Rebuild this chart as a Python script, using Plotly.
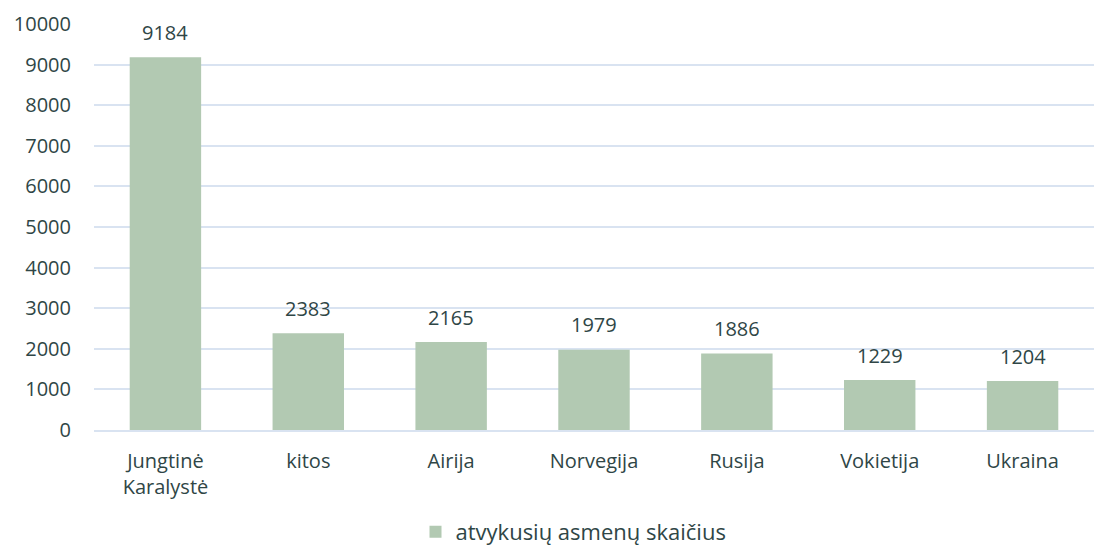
import plotly.graph_objects as go

categories = ["Jungtinė<br>Karalystė", "kitos", "Airija", "Norvegija", "Rusija", "Vokietija", "Ukraina"]
values = [9184, 2383, 2165, 1979, 1886, 1229, 1204]
series_name = "atvykusių asmenų skaičius"
y_ticks = [0, 1000, 2000, 3000, 4000, 5000, 6000, 7000, 8000, 9000, 10000]

text_color = "#2f4646"
bar_color = "#b2c9b2"
grid_color = "#d9e3f1"
font_family = "Open Sans, Noto Sans, sans-serif"
fs = 20

fig = go.Figure()
fig.add_trace(go.Bar(
    x=categories, y=values, name=series_name,
    marker=dict(color=bar_color, line=dict(width=0)),
    width=0.5,
    showlegend=True,
))
for c, v in zip(categories, values):
    fig.add_annotation(x=c, y=v, text=str(v), showarrow=False,
                       yanchor="middle", yshift=25,
                       font=dict(size=fs, color=text_color, family=font_family))

fig.update_layout(
    width=1095, height=554,
    margin=dict(l=94, r=1, t=24, b=124),
    paper_bgcolor="white", plot_bgcolor="white",
    font=dict(family=font_family, size=fs, color=text_color),
    bargap=0.5,
    xaxis=dict(showgrid=False, showline=True, linecolor=grid_color, linewidth=2,
               ticks="outside", ticklen=12, tickcolor="rgba(0,0,0,0)",
               tickfont=dict(size=fs, color=text_color)),
    yaxis=dict(range=[0, 10000], tickvals=y_ticks, tickformat="d", showgrid=True,
               gridcolor=grid_color, gridwidth=2, zeroline=False, showline=False,
               ticks="outside", ticklen=18, tickcolor="rgba(0,0,0,0)",
               tickfont=dict(size=fs, color=text_color)),
    showlegend=True,
    legend=dict(orientation="h", x=0.3215, xanchor="left", y=-0.303, yanchor="bottom",
                borderwidth=0, font=dict(size=22, color=text_color)),
)

fig.write_html("out.html", config={"displayModeBar": False},
               post_script="document.body.style.margin='0';document.body.style.overflow='hidden';")
